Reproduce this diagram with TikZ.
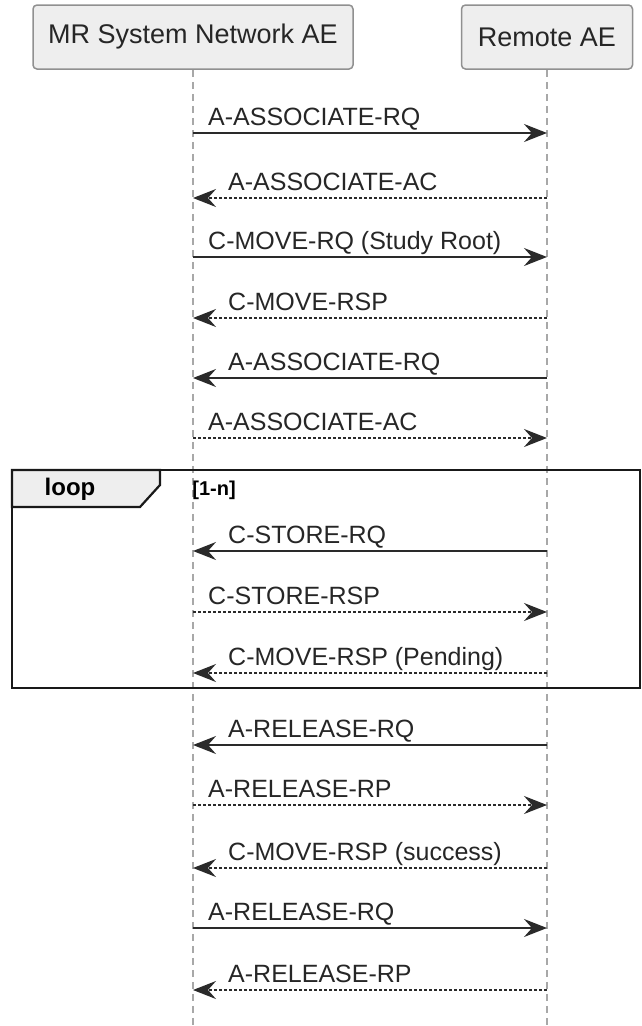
\documentclass[tikz,border=0pt]{standalone}
\usepackage{fontspec}
\setmainfont{Liberation Sans}
\usepackage{xcolor}
\usetikzlibrary{arrows.meta}

\definecolor{actorfill}{HTML}{EEEEEE}
\definecolor{actorline}{HTML}{909090}
\definecolor{lifeline}{HTML}{A8A8A8}
\definecolor{msgline}{HTML}{2A2A2A}

\tikzset{
  actor/.style={draw=actorline,line width=1.5pt,fill=actorfill,rounded corners=4pt,
    minimum height=64pt,inner sep=0pt,font=\fontsize{27}{30}\selectfont,text=black!85},
  life/.style={draw=lifeline,line width=1.5pt,dash pattern=on 7pt off 5pt},
  call/.style={draw=msgline,line width=1.7pt,-{Stealth[length=23pt,width=18pt,inset=8pt]}},
  reply/.style={call,dash pattern=on 3pt off 2pt},
  lbl/.style={font=\fontsize{25}{30}\selectfont,text=black!85,inner sep=0pt},
  frame/.style={draw=black!90,line width=2.2pt}
}

\begin{document}
\begin{tikzpicture}[x=1pt,y=-1pt]
\useasboundingbox (0,0) rectangle (641,1026);

\node [actor,minimum width=320pt] (mr) at (193,37) {MR System Network AE};
\node [actor,minimum width=171pt] (remote) at (547,37) {Remote AE};

\coordinate (mrend) at (193,1026);
\coordinate (remoteend) at (547,1026);
\draw [life] (mr.south) -- (mrend);
\draw [life] (remote.south) -- (remoteend);

% loop frame
\draw [frame] (12,470) rectangle (640,688);
\draw [frame,fill=actorfill] (12,470) -- (160,470) -- (160,485) -- (140,507) -- (12,507) -- cycle;
\node [font=\bfseries\fontsize{24}{28}\selectfont] (looptag) at (70,489) {loop};
\node [font=\bfseries\fontsize{20}{24}\selectfont] (guard) at (214,490) {[1-n]};

% messages
\foreach \n/\y/\from/\to/\kind/\lx/\txt in {
  1/133/a/b/call/208/A-ASSOCIATE-RQ,
  2/198/b/a/reply/228/A-ASSOCIATE-AC,
  3/257/a/b/call/208/C-MOVE-RQ (Study Root),
  4/318/b/a/reply/228/C-MOVE-RSP,
  5/378/b/a/call/228/A-ASSOCIATE-RQ,
  6/438/a/b/reply/208/A-ASSOCIATE-AC,
  7/551/b/a/call/228/C-STORE-RQ,
  8/612/a/b/reply/208/C-STORE-RSP,
  9/673/b/a/reply/228/C-MOVE-RSP (Pending),
  10/745/b/a/call/228/A-RELEASE-RQ,
  11/805/a/b/reply/208/A-RELEASE-RP,
  12/868/b/a/reply/228/C-MOVE-RSP (success),
  13/928/a/b/call/208/A-RELEASE-RQ,
  14/990/b/a/reply/228/A-RELEASE-RP}{
  \coordinate (a\n) at (193,\y);
  \coordinate (b\n) at (547,\y);
  \draw [\kind] (\from\n) -- (\to\n);
  \node [lbl,anchor=base west] (t\n) at (\lx,{\y-8}) {\txt};
}

\end{tikzpicture}
\end{document}
